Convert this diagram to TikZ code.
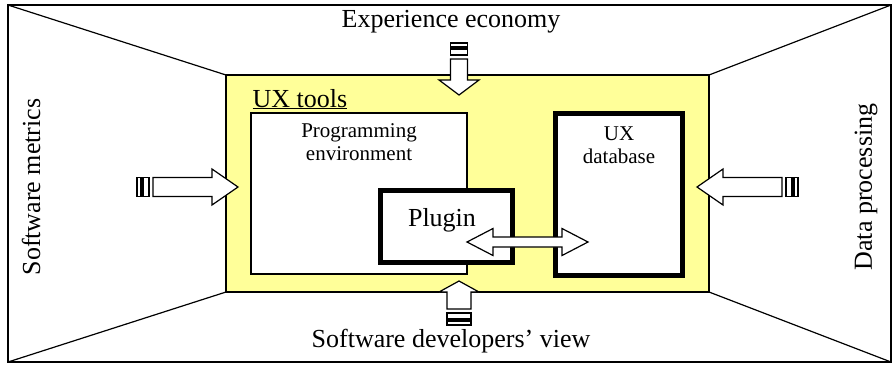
\documentclass[tikz,border=0pt]{standalone}
\usepackage{fontspec}
\setmainfont{Liberation Serif}
\usepackage{tikz}

\definecolor{uxyellow}{RGB}{255,255,153}

% striped block arrow: tip, angle, shaft length, head length, head half width, shaft half width
\newcommand{\stripedarrow}[6]{%
  \begin{scope}[shift={(#1)},rotate=#2]
    \draw[fill=white] (0,0) -- (-#4,#5) -- (-#4,#6) -- (-#3,#6) -- (-#3,-#6)
      -- (-#4,-#6) -- (-#4,-#5) -- cycle;
    \draw[fill=white] (-#3-4,#6) rectangle (-#3-10,-#6);
    \draw[fill=white] (-#3-12,#6) rectangle (-#3-16,-#6);
  \end{scope}}

\begin{document}
\begin{tikzpicture}
	 [x=1pt,y=-1pt,line width=1.2pt,line join=miter,
	  every node/.style={font=\fontsize{26}{30}\selectfont,inner sep=0pt},
	  small/.style={font=\fontsize{21}{23}\selectfont,align=center},
	  heavy/.style={line width=5pt}]
	\useasboundingbox (0,0) rectangle (893,365);

	% frame and walls
	\draw (8,5) rectangle (891,362);
	\draw[fill=uxyellow] (226,75) rectangle (709,292);
	\draw (8,5) -- (226,75);
	\draw (891,5) -- (709,75);
	\draw (8,362) -- (226,292);
	\draw (891,362) -- (709,292);

	% boxes
	\draw[fill=white] (251,113) rectangle (467,274);
	\draw[heavy,fill=white] (555.5,113) rectangle (682.5,275);
	\draw[heavy,fill=white] (380,190.5) rectangle (512,262.5);

	% arrows from outside
	\stripedarrow{238,187}{0}{85}{26}{18}{9.5}
	\stripedarrow{697,187}{180}{85}{26}{18}{9.5}
	\stripedarrow{459,95}{-90}{36}{15}{20}{8.5}
	\stripedarrow{459,281}{90}{28}{11}{20}{12}

	% plugin <-> database
	\draw[fill=white] (467,242) -- (493,228.5) -- (493,237) -- (562,237) -- (562,228.5)
	  -- (588,242) -- (562,255.5) -- (562,247) -- (493,247) -- (493,255.5) -- cycle;

	% labels
	\node (economy) at (451,22) {Experience economy};
	\node (developers) at (451,341) {Software developers' view};
	\node[rotate=90] (metrics) at (31,187) {Software metrics};
	\node[rotate=90] (dataproc) at (866,187) {Data processing};
	\node[anchor=base west] (uxtools) at (252,107) {\underline{UX tools}};
	\node[small,anchor=base] (env) at (359,160) {Programming\\environment};
	\node[small,anchor=base] (database) at (619,163) {UX\\database};
	\node (plugin) at (442,220) {Plugin};
\end{tikzpicture}
\end{document}
